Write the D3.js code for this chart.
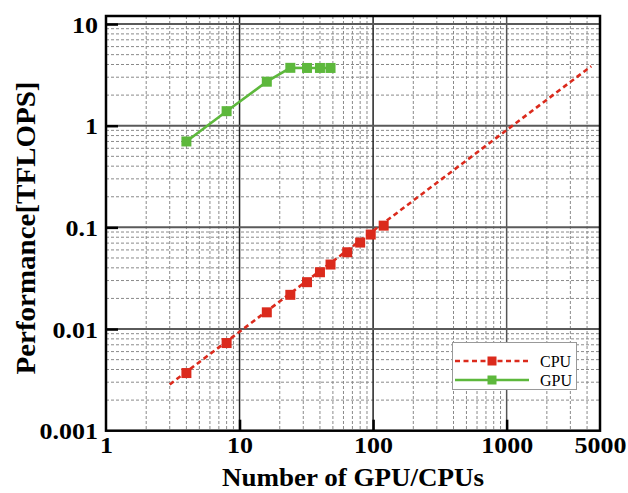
<!DOCTYPE html>
<html><head><meta charset="utf-8">
<script src="https://cdn.jsdelivr.net/npm/d3@7/dist/d3.min.js"></script>
<style>body{margin:0;background:#fff}svg{display:block}</style>
</head><body>
<svg id="chart" width="628" height="493"></svg>
<script>
// ---- data ----
const gpuCounts = [4, 8, 16, 24, 32, 40, 48];
const gpuPerf   = [0.70, 1.39, 2.71, 3.71, 3.70, 3.70, 3.70];
const cpuCounts = [4, 8, 16, 24, 32, 40, 48, 64, 80, 96, 120];
const cpuPerf   = [0.00369, 0.00728, 0.0146, 0.0217, 0.0289, 0.0362, 0.0431, 0.0569, 0.0709, 0.085, 0.104];
const cpuTrendX = [3, 4300];
const cpuTrendY = [0.00285, 3.85];
const xTickLabels = [1, 10, 100, 1000, 5000];
const yTickLabels = [0.001, 0.01, 0.1, 1, 10];
const seriesNames = ["CPU", "GPU"];

const svg = d3.select("#chart");
const pL = 106, pR = 600, pT = 16, pB = 430.7;
const x = d3.scaleLog().domain([1, 5000]).range([pL, pR]);
const y = d3.scaleLog().domain([0.001, 12]).range([pB, pT]);
const red = "#db2a1c", green = "#5db83c";
const serif = "'Liberation Serif','Times New Roman',serif";

function stretch(sel, f) {
  sel.each(function () {
    const w = this.getComputedTextLength();
    d3.select(this).attr("textLength", w * f).attr("lengthAdjust", "spacingAndGlyphs");
  });
}

// minor grid
const xMinor = [], yMinor = [];
for (let e = 0; e < 4; e++) for (let k = 2; k <= 9; k++) { const v = k * Math.pow(10, e); if (v < 5000) xMinor.push(v); }
for (let e = -3; e < 1; e++) for (let k = 2; k <= 9; k++) yMinor.push(+(k * Math.pow(10, e)).toPrecision(3));
const g = svg.append("g");
g.selectAll(".xm").data(xMinor).join("line")
  .attr("x1", d => x(d)).attr("x2", d => x(d)).attr("y1", pT).attr("y2", pB)
  .attr("stroke", "#8a8a8a").attr("stroke-width", 1).attr("stroke-dasharray", "3,2");
g.selectAll(".ym").data(yMinor).join("line")
  .attr("y1", d => y(d)).attr("y2", d => y(d)).attr("x1", pL).attr("x2", pR)
  .attr("stroke", "#8a8a8a").attr("stroke-width", 1).attr("stroke-dasharray", "3,2");
// major grid
g.selectAll(".xM").data([10, 100, 1000]).join("line")
  .attr("x1", d => x(d)).attr("x2", d => x(d)).attr("y1", pT).attr("y2", pB)
  .attr("stroke", (d, i) => i === 2 ? "#555" : "#222").attr("stroke-width", 1.5);
g.selectAll(".yM").data([0.01, 0.1, 1, 10]).join("line")
  .attr("y1", d => y(d)).attr("y2", d => y(d)).attr("x1", pL).attr("x2", pR)
  .attr("stroke", "#5a5a5a").attr("stroke-width", 2);

// frame
svg.append("rect").attr("x", pL).attr("y", pT).attr("width", pR - pL).attr("height", pB - pT)
  .attr("fill", "none").attr("stroke", "#000").attr("stroke-width", 2.5);

// axes (ticks inward, labels)
const xAxis = d3.axisBottom(x).tickValues(xTickLabels).tickSizeInner(-11).tickSizeOuter(0)
  .tickFormat(d3.format("d"));
const xa = svg.append("g").attr("transform", `translate(0,${pB})`).call(xAxis);
xa.select(".domain").remove();
xa.selectAll(".tick line").attr("stroke", "#000").attr("stroke-width", 2.5)
  .filter(d => d === 1 || d === 5000).remove();
xa.selectAll("text").attr("font-family", serif).attr("font-weight", "bold").attr("font-size", 23)
  .attr("fill", "#000").attr("y", 22.5).attr("dy", 0).call(stretch, 1.13);

const yAxis = d3.axisLeft(y).tickValues(yTickLabels).tickSizeInner(-12).tickSizeOuter(0)
  .tickPadding(8).tickFormat(d => String(d));
const ya = svg.append("g").attr("transform", `translate(${pL},0)`).call(yAxis);
ya.select(".domain").remove();
ya.selectAll(".tick line").attr("stroke", "#000").attr("stroke-width", 2.5)
  .filter(d => d === 0.001).remove();
ya.selectAll("text").attr("font-family", serif).attr("font-weight", "bold").attr("font-size", 23)
  .attr("fill", "#000").attr("dy", "0.36em").call(stretch, 1.13);

// series
const line = d3.line().x(d => x(d[0])).y(d => y(d[1]));
svg.append("path").datum(d3.zip(cpuTrendX, cpuTrendY)).attr("d", line)
  .attr("fill", "none").attr("stroke", red).attr("stroke-width", 2.6).attr("stroke-dasharray", "5,3.5");
svg.append("path").datum(d3.zip(gpuCounts, gpuPerf)).attr("d", line)
  .attr("fill", "none").attr("stroke", green).attr("stroke-width", 2.6);
const ms = 10;
svg.selectAll(".cpuPt").data(d3.zip(cpuCounts, cpuPerf)).join("rect")
  .attr("x", d => x(d[0]) - ms / 2).attr("y", d => y(d[1]) - ms / 2).attr("width", ms).attr("height", ms).attr("fill", red);
svg.selectAll(".gpuPt").data(d3.zip(gpuCounts, gpuPerf)).join("rect")
  .attr("x", d => x(d[0]) - ms / 2).attr("y", d => y(d[1]) - ms / 2).attr("width", ms).attr("height", ms).attr("fill", green);

// legend
const lg = svg.append("g");
lg.append("rect").attr("x", 452.5).attr("y", 342.5).attr("width", 124).attr("height", 47)
  .attr("fill", "#fff").attr("stroke", "#999").attr("stroke-width", 1);
const rows = [{name: seriesNames[0], c: red, dash: "5,3.5", yy: 361}, {name: seriesNames[1], c: green, dash: null, yy: 380}];
rows.forEach(r => {
  lg.append("line").attr("x1", 455).attr("x2", 529).attr("y1", r.yy).attr("y2", r.yy)
    .attr("stroke", r.c).attr("stroke-width", 2.6).attr("stroke-dasharray", r.dash);
  lg.append("rect").attr("x", 492 - 4.5).attr("y", r.yy - 4.5).attr("width", 9).attr("height", 9).attr("fill", r.c);
  lg.append("text").attr("x", 540).attr("y", r.yy + 5.5).text(r.name)
    .attr("font-family", serif).attr("font-size", 16).attr("fill", "#000");
});

// titles
svg.append("text").attr("x", (pL + pR) / 2).attr("y", 486).attr("text-anchor", "middle")
  .attr("font-family", serif).attr("font-weight", "bold").attr("font-size", 25)
  .attr("textLength", 262).attr("lengthAdjust", "spacingAndGlyphs").text("Number of GPU/CPUs");
svg.append("text").attr("transform", `translate(35,228) rotate(-90)`).attr("text-anchor", "middle")
  .attr("font-family", serif).attr("font-weight", "bold").attr("font-size", 28)
  .attr("textLength", 293).attr("lengthAdjust", "spacingAndGlyphs").text("Performance[TFLOPS]");
</script>
</body></html>
